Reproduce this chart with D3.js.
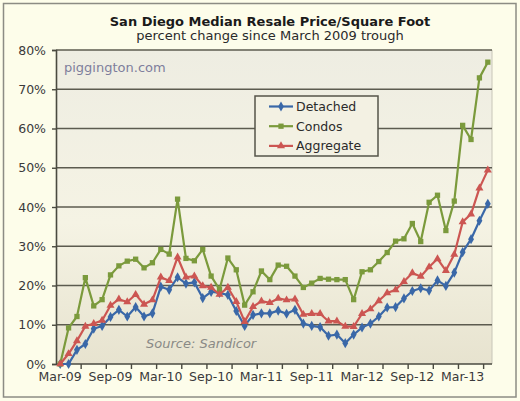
<!DOCTYPE html>
<html><head><meta charset="utf-8">
<script src="https://cdn.jsdelivr.net/npm/d3@7"></script>
<style>body{margin:0;background:#fff;}svg{display:block;}</style>
</head><body>
<script>
const months = ["Mar-09","Apr-09","May-09","Jun-09","Jul-09","Aug-09","Sep-09","Oct-09","Nov-09","Dec-09",
"Jan-10","Feb-10","Mar-10","Apr-10","May-10","Jun-10","Jul-10","Aug-10","Sep-10","Oct-10","Nov-10","Dec-10",
"Jan-11","Feb-11","Mar-11","Apr-11","May-11","Jun-11","Jul-11","Aug-11","Sep-11","Oct-11","Nov-11","Dec-11",
"Jan-12","Feb-12","Mar-12","Apr-12","May-12","Jun-12","Jul-12","Aug-12","Sep-12","Oct-12","Nov-12","Dec-12",
"Jan-13","Feb-13","Mar-13","Apr-13","May-13","Jun-13"];
const detached = [0,0,3.6,5.1,9.0,9.7,12.0,13.8,12.1,14.5,12.1,12.9,19.7,18.9,22.1,20.5,20.8,16.8,18.4,18.1,17.6,13.5,
9.7,12.5,12.9,12.9,13.6,12.8,13.8,10.3,9.7,9.4,7.2,7.5,5.3,7.5,9.3,10.3,12.1,14.4,14.5,16.7,18.6,19.3,18.7,21.3,19.9,23.3,28.5,31.8,36.5,40.8];
const condos = [0,9.2,12.1,22.0,14.8,16.4,22.7,25.0,26.2,26.7,24.5,25.8,29.2,28.0,42.0,26.9,26.3,29.2,22.4,19.0,27.0,24.0,
15.0,18.4,23.7,21.5,25.2,24.9,22.4,19.5,20.6,21.8,21.6,21.5,21.5,16.4,23.5,24.0,26.1,28.4,31.3,31.9,35.8,31.2,41.2,43.0,34.0,41.5,60.8,57.2,72.9,76.9];
const aggregate = [0,2.6,5.9,9.6,10.3,11.1,14.9,16.5,15.8,17.7,15.2,16.3,22.1,21.2,27.2,22.1,22.4,19.9,19.5,17.7,19.5,15.9,
10.8,14.6,16.0,15.6,16.7,16.3,16.5,12.6,12.8,12.8,10.9,10.9,9.6,9.5,12.8,14.0,16.1,18.1,18.9,21.0,23.2,22.3,24.7,26.8,23.8,27.9,36.2,38.2,44.8,49.4];
const yTicks = [0,10,20,30,40,50,60,70,80];
const seriesNames = ["Detached","Condos","Aggregate"];
const seriesColors = ["#3a68a8","#7b9a3c","#cc5652"];
const seriesShapes = [d3.symbolDiamond, d3.symbolSquare, d3.symbolTriangle];
const seriesData = [detached, condos, aggregate];
const title = "San Diego Median Resale Price/Square Foot";
const subtitle = "percent change since March 2009 trough";

const W = 520, H = 401;
const L = 56, R = 492, T = 50, B = 364;
const svg = d3.select("body").append("svg").attr("width", W).attr("height", H);
const defs = svg.append("defs");
const g1 = defs.append("linearGradient").attr("id","pbg").attr("x1",0).attr("y1",0).attr("x2",0).attr("y2",1);
g1.append("stop").attr("offset","0%").attr("stop-color","#eeede2");
g1.append("stop").attr("offset","55%").attr("stop-color","#f5f3e4");
g1.append("stop").attr("offset","100%").attr("stop-color","#e7e3cf");

svg.append("rect").attr("width",W).attr("height",H).attr("fill","#fdfdea");
svg.append("rect").attr("x",3.5).attr("y",3.5).attr("width",512.5).attr("height",393.5)
  .attr("fill","none").attr("stroke","#8c8c84").attr("stroke-width",1.5);

const x = d3.scaleBand().domain(months).range([L, R]).padding(0);
const y = d3.scaleLinear().domain([0, 80]).range([B, T]);
const cx = d => x(d) + x.bandwidth()/2;

svg.append("rect").attr("x",L).attr("y",T).attr("width",R-L).attr("height",B-T).attr("fill","url(#pbg)");
svg.append("line").attr("x1",R).attr("x2",R).attr("y1",T).attr("y2",B).attr("stroke","#c8c6b8").attr("stroke-width",1);

// gridlines
svg.append("g").selectAll("line").data(yTicks.filter(v=>v>0)).join("line")
  .attr("x1",L).attr("x2",R).attr("y1",d=>y(d)).attr("y2",d=>y(d))
  .attr("stroke","#5c5b4f").attr("stroke-width",1.6);

// y axis
const yAxis = d3.axisLeft(y).tickValues(yTicks).tickSize(4).tickPadding(6).tickFormat(d=>d+"%");
const ya = svg.append("g").attr("transform",`translate(${L},0)`).call(yAxis);
ya.select(".domain").attr("stroke","#4a4a40").attr("stroke-width",1.6);
ya.selectAll(".tick line").attr("stroke","#4a4a40").attr("stroke-width",1.4);
ya.selectAll(".tick text").attr("font-family","DejaVu Sans").attr("font-size",12.5).attr("fill","#3a3a3a");

// x axis
svg.append("line").attr("x1",L).attr("x2",R).attr("y1",B).attr("y2",B).attr("stroke","#4a4a40").attr("stroke-width",1.6);
const tickMonths = months.filter((m,i)=> i%3===0 && i>0);
svg.append("g").selectAll("line").data(tickMonths).join("line")
  .attr("x1",d=>x(d)).attr("x2",d=>x(d)).attr("y1",B).attr("y2",B+5)
  .attr("stroke","#4a4a40").attr("stroke-width",1.4);
svg.append("g").selectAll("text").data(months.filter((m,i)=>i%6===0)).join("text")
  .attr("x",d=>cx(d)).attr("y",B+17).attr("text-anchor","middle")
  .attr("font-family","DejaVu Sans").attr("font-size",12.5).attr("fill","#3a3a3a").text(d=>d);

// titles
svg.append("text").attr("x",270).attr("y",25.5).attr("text-anchor","middle")
  .attr("font-family","DejaVu Sans").attr("font-weight","bold").attr("font-size",13).attr("fill","#1a1a1a").text(title);
svg.append("text").attr("x",270).attr("y",40).attr("text-anchor","middle")
  .attr("font-family","DejaVu Sans").attr("font-size",13).attr("fill","#2a2a2a").text(subtitle);

// annotations
svg.append("text").attr("x",64).attr("y",72).attr("font-family","DejaVu Sans").attr("font-size",13)
  .attr("fill","#7e7e9c").text("piggington.com");
svg.append("text").attr("x",146).attr("y",348).attr("font-family","DejaVu Sans").attr("font-style","italic")
  .attr("font-size",13).attr("fill","#8a8a86").text("Source:  Sandicor");

// series
const line = d3.line().x((d,i)=>cx(months[i])).y(d=>y(d));
seriesData.forEach((data,k)=>{
  const g = svg.append("g");
  g.append("path").datum(data).attr("d",line).attr("fill","none")
    .attr("stroke",seriesColors[k]).attr("stroke-width",2.2).attr("stroke-linejoin","round");
  g.selectAll("path.m").data(data).join("path").attr("class","m")
    .attr("transform",(d,i)=>`translate(${cx(months[i])},${y(d)})`)
    .attr("d",d3.symbol().type(seriesShapes[k]).size(k===0?30:28))
    .attr("fill",seriesColors[k]);
});

// legend
const lg = svg.append("g");
lg.append("rect").attr("x",255).attr("y",96).attr("width",123).attr("height",60)
  .attr("fill","#f3f1e3").attr("stroke","#55544a").attr("stroke-width",1.5);
seriesNames.forEach((n,k)=>{
  const yy = 106.5 + k*19.7;
  lg.append("line").attr("x1",269).attr("x2",293).attr("y1",yy).attr("y2",yy)
    .attr("stroke",seriesColors[k]).attr("stroke-width",2.2);
  lg.append("path").attr("transform",`translate(281,${yy})`)
    .attr("d",d3.symbol().type(seriesShapes[k]).size(28)).attr("fill",seriesColors[k]);
  lg.append("text").attr("x",296).attr("y",yy+4.5).attr("font-family","DejaVu Sans").attr("font-size",12.5)
    .attr("fill","#2a2a2a").text(n);
});
</script>
</body></html>
